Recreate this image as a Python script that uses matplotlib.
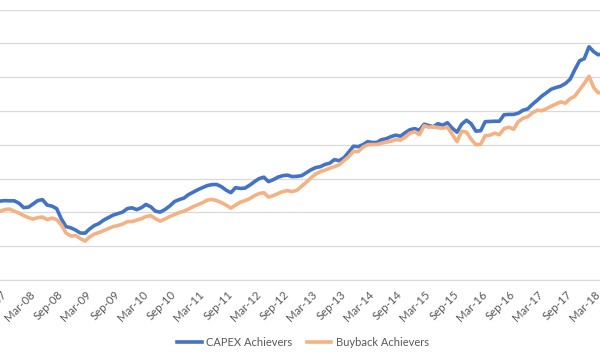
import numpy as np
import pandas as pd
import matplotlib
matplotlib.use("Agg")
import matplotlib.pyplot as plt
import matplotlib.dates as mdates

# monthly index levels, Jul-07 .. Apr-18
months = pd.date_range("2007-07-01", periods=130, freq="MS")

capex = [
    116.7, 116.7, 117.4, 117.1, 117.1, 113.7, 107.1, 107.8,   # Jul-07 .. Feb-08
    112.3, 117.4, 118.9, 110.8, 109.3, 105.6, 90.1, 79.0, 77.2, 73.9, 69.4, 69.4,   # Mar-08 .. Feb-09
    75.3, 80.5, 83.5, 88.6, 92.3, 96.0, 98.2, 100.4, 105.6, 106.8, 104.1, 107.1,
    111.8, 108.3, 101.9, 100.4, 104.1, 109.3, 115.9, 118.9, 121.1, 126.3, 130.0, 133.7,
    136.6, 139.6, 141.1, 141.3, 138.1, 132.9, 129.2, 136.6, 135.4, 135.9, 140.3, 145.5,
    149.9, 152.1, 145.5, 148.4, 152.1, 154.3, 155.1, 152.9, 153.3, 154.3, 158.8, 163.2,
    166.2, 167.6, 170.9, 172.8, 178.0, 176.5, 180.9, 189.1, 197.9, 197.2, 200.1, 204.6,
    203.4, 203.4, 207.5, 209.0, 212.0, 214.2, 212.7, 217.9, 222.3, 223.8, 221.6, 230.4,
    228.5, 226.7, 231.2, 228.9, 232.6, 224.5, 218.6, 230.4, 236.3, 231.2, 220.1, 220.8,
    234.1, 234.4, 234.8, 234.8, 244.4, 244.9, 244.9, 246.7, 251.1, 253.0, 260.0, 265.9,
    271.8, 276.9, 282.1, 284.6, 286.5, 290.5, 296.9, 310.9, 324.2, 327.2, 344.9, 337.5,
    333.1, 334.5,
]

buyback = [
    101.9, 101.9, 104.1, 104.9, 101.9, 99.0, 95.3, 92.3,
    90.1, 92.3, 93.1, 89.4, 91.6, 89.4, 81.2, 69.4, 65.0, 65.7, 61.3, 57.6,
    63.5, 67.9, 70.2, 73.1, 76.1, 79.0, 80.5, 82.7, 86.4, 86.4, 88.6, 90.8,
    93.8, 95.3, 90.8, 87.1, 90.1, 93.8, 96.7, 99.7, 101.9, 104.9, 108.6, 111.5,
    114.2, 118.2, 119.2, 117.4, 114.5, 110.8, 106.3, 110.8, 115.2, 117.4, 120.4, 124.8,
    127.8, 129.2, 122.6, 124.8, 127.8, 130.7, 132.2, 130.7, 132.9, 138.8, 144.7, 151.4,
    156.6, 160.3, 162.5, 165.4, 167.6, 170.6, 176.5, 182.4, 190.5, 189.8, 196.4, 200.1,
    200.4, 200.4, 202.3, 203.8, 205.3, 207.5, 206.8, 211.2, 217.1, 219.3, 214.9, 228.2,
    226.0, 226.7, 225.2, 224.5, 226.0, 215.6, 204.6, 220.1, 218.6, 208.3, 200.1, 200.9,
    213.4, 214.2, 217.1, 214.9, 223.8, 226.0, 223.0, 234.1, 239.3, 241.5, 247.4, 251.1,
    250.4, 253.3, 257.0, 260.0, 263.4, 261.4, 268.1, 271.8, 281.4, 290.5, 301.3, 284.3,
    276.9, 277.7,
]

tick_dates = pd.date_range("2007-09-01", "2018-03-01", freq="6MS")

plt.rcParams['font.family'] = ['Lato', 'DejaVu Sans']

fig = plt.figure(figsize=(6.0, 3.59), dpi=100)
ax = fig.add_axes([0.0, 0.22, 1.0, 0.7535])

ax.plot(months, capex, color="#4472C4", lw=2.6, label="CAPEX Achievers",
        solid_joinstyle="round")
ax.plot(months, buyback, color="#F4B183", lw=2.6, label="Buyback Achievers",
        solid_joinstyle="round")

ax.set_xlim(pd.Timestamp("2007-08-01"), pd.Timestamp("2018-03-13"))
ax.set_ylim(0, 400)
ax.set_yticks(np.arange(0, 401, 50))
ax.yaxis.grid(True, color="#D9D9D9", lw=0.9)
ax.set_axisbelow(True)
ax.tick_params(axis="y", left=False, labelleft=False)

ax.set_xticks(tick_dates)
ax.xaxis.set_major_formatter(mdates.DateFormatter("%b-%y"))
ax.tick_params(axis="x", length=0, pad=9, labelsize=8.2, labelcolor="#595959")
for lab in ax.get_xticklabels():
    lab.set_rotation(45)
    lab.set_ha("right")
    lab.set_va("center")
    lab.set_rotation_mode("anchor")

for s in ["top", "left", "right"]:
    ax.spines[s].set_visible(False)
ax.spines["bottom"].set_color("#D9D9D9")
ax.spines["bottom"].set_linewidth(0.9)

fig.legend(loc="center", bbox_to_anchor=(0.505, 0.045), ncol=2, frameon=False,
           fontsize=8, labelcolor="#595959", handlelength=2.2,
           columnspacing=1.3, handletextpad=0.4)

fig.savefig("out.png", dpi=100)
